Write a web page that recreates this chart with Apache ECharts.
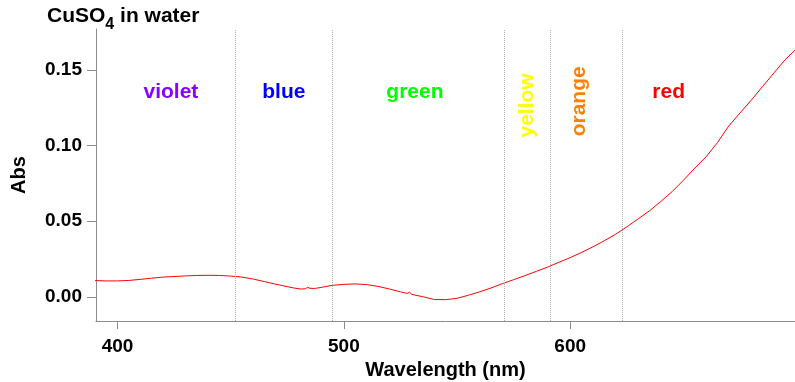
<!DOCTYPE html>
<html>
<head>
<meta charset="utf-8">
<script src="https://cdn.jsdelivr.net/npm/echarts@6/dist/echarts.min.js"></script>
<style>html,body{margin:0;padding:0;background:#fff}#c{width:795px;height:382px}</style>
</head>
<body>
<div id="c"></div>
<script>
const wavelength = [390,395,400,405,410,415,420,425,430,435,440,445,450,455,460,465,470,475,478,481,483,484,485,487,490,495,500,505,510,515,520,525,528,529,530,535,540,545,550,555,560,565,570,575,580,585,590,595,600,605,610,615,620,625,630,635,640,645,650,655,660,665,670,675,680,685,690,695,700];
const absorbance = [0.0107,0.0105,0.0105,0.0108,0.0115,0.0123,0.0130,0.0134,0.0138,0.0141,0.0142,0.0141,0.0137,0.0130,0.0117,0.0100,0.0083,0.0067,0.0058,0.0051,0.0053,0.0063,0.0056,0.0055,0.0062,0.0076,0.0082,0.0085,0.0081,0.0069,0.0052,0.0033,0.0022,0.0030,0.0016,0.0000,-0.0018,-0.0019,-0.0010,0.0010,0.0033,0.0058,0.0087,0.0113,0.0140,0.0168,0.0196,0.0228,0.0259,0.0293,0.0330,0.0370,0.0413,0.0462,0.0515,0.0568,0.0630,0.0695,0.0770,0.0850,0.0925,0.1018,0.1128,0.1215,0.1300,0.1390,0.1480,0.1568,0.1640];
const boundaries = [452, 495, 571, 591, 623];
const regionNames = ['violet','blue','green','yellow','orange','red'];
const regionX = [423.6, 473.5, 531.4, 581.2, 604.1, 643.5];
const regionY = [0.1352, 0.1352, 0.1352, 0.1265, 0.1292, 0.1352];
const regionColors = ['#8800ff','#0000ff','#00ff00','#ffff00','#ff8000','#ff0000'];
const regionRotate = [0,0,0,90,90,0];
const xTicks = [400, 500, 600];
const yTicks = [0, 0.05, 0.10, 0.15];

const FONT = '"Liberation Sans", Arial, Helvetica, sans-serif';
const axisGrey = '#8c8c8c';
const chart = echarts.init(document.getElementById('c'), null, {renderer:'canvas'});
chart.setOption({
  animation: false,
  backgroundColor: '#fff',
  title: {
    text: '{a|CuSO}{s|4}{a| in water}',
    left: 47, top: 6, padding: 0,
    textStyle: {
      rich: {
        a: {fontFamily: FONT, fontWeight: 'bold', fontSize: 21, color: '#000', lineHeight: 24, verticalAlign: 'top'},
        s: {fontFamily: FONT, fontWeight: 'bold', fontSize: 16, color: '#000', lineHeight: 16, padding: [11, 0, 0, 0], verticalAlign: 'top'}
      }
    }
  },
  grid: {left: 96, right: 0, top: 29, bottom: 61, containLabel: false, outerBoundsMode: 'none'},
  xAxis: {
    type: 'value', min: 390.5, max: 699.3,
    name: 'Wavelength (nm)', nameLocation: 'middle', nameGap: 39,
    nameTextStyle: {fontFamily: FONT, fontWeight: 'bold', fontSize: 20, color: '#000'},
    axisLine: {show: true, onZero: false, lineStyle: {color: axisGrey, width: 1}},
    axisTick: {show: true, inside: false, length: 8, customValues: xTicks, lineStyle: {color: axisGrey}},
    axisLabel: {customValues: xTicks, margin: 16, fontFamily: FONT, fontWeight: 'bold', fontSize: 19, color: '#000'},
    splitLine: {show: false}
  },
  yAxis: {
    type: 'value', min: -0.016, max: 0.177,
    name: 'Abs', nameLocation: 'middle', nameGap: 67, nameRotate: 90,
    nameTextStyle: {fontFamily: FONT, fontWeight: 'bold', fontSize: 20, color: '#000'},
    axisLine: {show: true, onZero: false, lineStyle: {color: axisGrey, width: 1}},
    axisTick: {show: true, inside: false, length: 9, customValues: yTicks, lineStyle: {color: axisGrey}},
    axisLabel: {customValues: yTicks, margin: 14, fontFamily: FONT, fontWeight: 'bold', fontSize: 19, color: '#000',
      formatter: v => v.toFixed(2)},
    splitLine: {show: false}
  },
  series: [{
    type: 'line',
    data: wavelength.map((w, i) => [w, absorbance[i]]),
    showSymbol: false, symbol: 'none',
    lineStyle: {color: '#ff0000', width: 1},
    clip: true,
    markLine: {
      silent: true, symbol: 'none', animation: false,
      label: {show: false},
      lineStyle: {color: '#b0b0b0', type: 'dotted', width: 1},
      data: boundaries.map(b => ({xAxis: b}))
    },
    markPoint: {
      silent: true, animation: false,
      symbol: 'circle', symbolSize: 1,
      itemStyle: {color: 'rgba(0,0,0,0)'},
      data: regionNames.map((n, i) => ({
        name: n, coord: [regionX[i], regionY[i]],
        label: {show: true, position: 'inside', formatter: n, rotate: regionRotate[i],
          fontFamily: FONT, fontWeight: 'bold', fontSize: 21, color: regionColors[i]}
      }))
    }
  }]
});
</script>
</body>
</html>
